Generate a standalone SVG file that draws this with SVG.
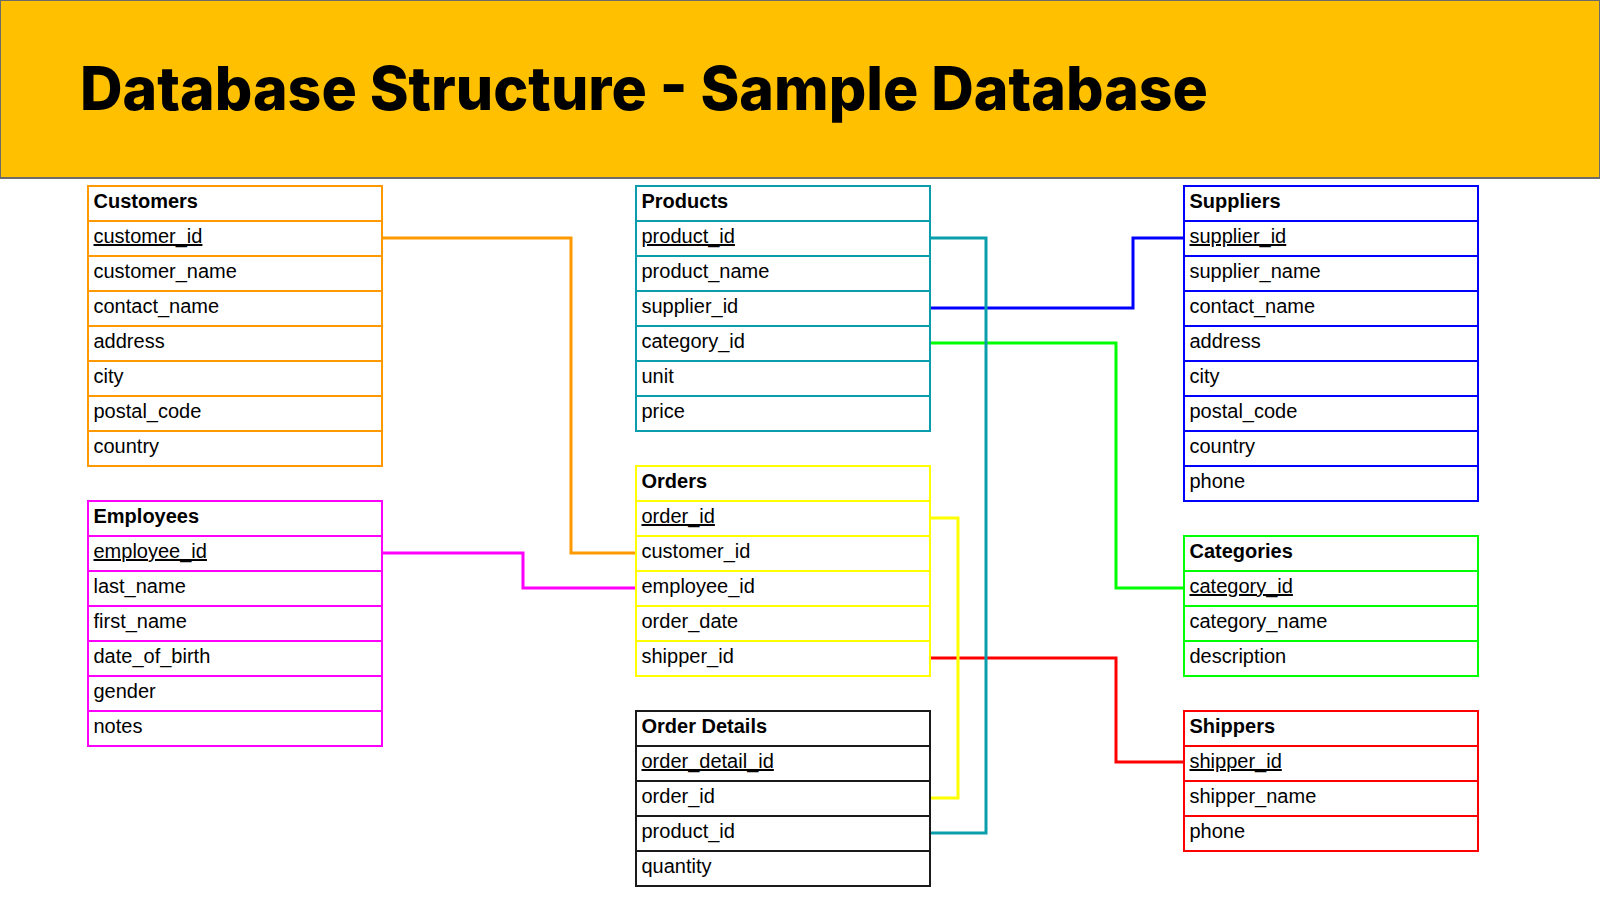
<svg xmlns="http://www.w3.org/2000/svg" width="1600" height="900" viewBox="0 0 1600 900">
<style>
  .hdr { font-family: "Liberation Sans", Arial, sans-serif; font-size: 20px; font-weight: bold; fill: #000; stroke: none; }
  .fld { font-family: "Liberation Sans", Arial, sans-serif; font-size: 20px; fill: #000; stroke: none; }
  .key { text-decoration: underline; }
  .row { fill: #fff; stroke-width: 2; }
  .conn { fill: none; stroke-width: 3; stroke-linejoin: miter; }
  .title { font-family: Inter, "Open Sans", "Liberation Sans", sans-serif; font-size: 60px; font-weight: 800; fill: #000; }
  .orange { stroke: #FF9900; }
  .teal { stroke: #0A9EAD; }
  .blue { stroke: #0000FF; }
  .magenta { stroke: #FF00FF; }
  .yellow { stroke: #FFFF00; }
  .green { stroke: #00FF00; }
  .red { stroke: #FF0000; }
  .black { stroke: #1A1A1A; }
</style>
<rect width="1600" height="900" fill="#ffffff"/>
<g id="header">
  <rect x="0" y="0" width="1600" height="178" fill="#FFC000" stroke="#6B6B6B" stroke-width="2"/>
  <text class="title" x="80" y="110" textLength="1128" lengthAdjust="spacingAndGlyphs">Database Structure - Sample Database</text>
</g>
<g id="connectors">
  <polyline class="conn orange" points="382,238 571,238 571,553 636,553"/>
  <polyline class="conn magenta" points="382,553 523,553 523,588 636,588"/>
  <polyline class="conn blue" points="930,308 1133,308 1133,238 1184,238"/>
  <polyline class="conn green" points="930,343 1116,343 1116,588 1184,588"/>
  <polyline class="conn red" points="930,658 1116,658 1116,762 1184,762"/>
  <polyline class="conn yellow" points="930,518 958,518 958,798 930,798"/>
  <polyline class="conn teal" points="930,238 986,238 986,833 930,833"/>
</g>
<g id="customers" class="orange">
  <rect class="row" x="88" y="186" width="294" height="35"/>
  <rect class="row" x="88" y="221" width="294" height="35"/>
  <rect class="row" x="88" y="256" width="294" height="35"/>
  <rect class="row" x="88" y="291" width="294" height="35"/>
  <rect class="row" x="88" y="326" width="294" height="35"/>
  <rect class="row" x="88" y="361" width="294" height="35"/>
  <rect class="row" x="88" y="396" width="294" height="35"/>
  <rect class="row" x="88" y="431" width="294" height="35"/>
  <text class="hdr" x="93.5" y="208">Customers</text>
  <text class="fld key" x="93.5" y="243">customer_id</text>
  <text class="fld" x="93.5" y="278">customer_name</text>
  <text class="fld" x="93.5" y="313">contact_name</text>
  <text class="fld" x="93.5" y="348">address</text>
  <text class="fld" x="93.5" y="383">city</text>
  <text class="fld" x="93.5" y="418">postal_code</text>
  <text class="fld" x="93.5" y="453">country</text>
</g>
<g id="employees" class="magenta">
  <rect class="row" x="88" y="501" width="294" height="35"/>
  <rect class="row" x="88" y="536" width="294" height="35"/>
  <rect class="row" x="88" y="571" width="294" height="35"/>
  <rect class="row" x="88" y="606" width="294" height="35"/>
  <rect class="row" x="88" y="641" width="294" height="35"/>
  <rect class="row" x="88" y="676" width="294" height="35"/>
  <rect class="row" x="88" y="711" width="294" height="35"/>
  <text class="hdr" x="93.5" y="523">Employees</text>
  <text class="fld key" x="93.5" y="558">employee_id</text>
  <text class="fld" x="93.5" y="593">last_name</text>
  <text class="fld" x="93.5" y="628">first_name</text>
  <text class="fld" x="93.5" y="663">date_of_birth</text>
  <text class="fld" x="93.5" y="698">gender</text>
  <text class="fld" x="93.5" y="733">notes</text>
</g>
<g id="products" class="teal">
  <rect class="row" x="636" y="186" width="294" height="35"/>
  <rect class="row" x="636" y="221" width="294" height="35"/>
  <rect class="row" x="636" y="256" width="294" height="35"/>
  <rect class="row" x="636" y="291" width="294" height="35"/>
  <rect class="row" x="636" y="326" width="294" height="35"/>
  <rect class="row" x="636" y="361" width="294" height="35"/>
  <rect class="row" x="636" y="396" width="294" height="35"/>
  <text class="hdr" x="641.5" y="208">Products</text>
  <text class="fld key" x="641.5" y="243">product_id</text>
  <text class="fld" x="641.5" y="278">product_name</text>
  <text class="fld" x="641.5" y="313">supplier_id</text>
  <text class="fld" x="641.5" y="348">category_id</text>
  <text class="fld" x="641.5" y="383">unit</text>
  <text class="fld" x="641.5" y="418">price</text>
</g>
<g id="orders" class="yellow">
  <rect class="row" x="636" y="466" width="294" height="35"/>
  <rect class="row" x="636" y="501" width="294" height="35"/>
  <rect class="row" x="636" y="536" width="294" height="35"/>
  <rect class="row" x="636" y="571" width="294" height="35"/>
  <rect class="row" x="636" y="606" width="294" height="35"/>
  <rect class="row" x="636" y="641" width="294" height="35"/>
  <text class="hdr" x="641.5" y="488">Orders</text>
  <text class="fld key" x="641.5" y="523">order_id</text>
  <text class="fld" x="641.5" y="558">customer_id</text>
  <text class="fld" x="641.5" y="593">employee_id</text>
  <text class="fld" x="641.5" y="628">order_date</text>
  <text class="fld" x="641.5" y="663">shipper_id</text>
</g>
<g id="order-details" class="black">
  <rect class="row" x="636" y="711" width="294" height="35"/>
  <rect class="row" x="636" y="746" width="294" height="35"/>
  <rect class="row" x="636" y="781" width="294" height="35"/>
  <rect class="row" x="636" y="816" width="294" height="35"/>
  <rect class="row" x="636" y="851" width="294" height="35"/>
  <text class="hdr" x="641.5" y="733">Order Details</text>
  <text class="fld key" x="641.5" y="768">order_detail_id</text>
  <text class="fld" x="641.5" y="803">order_id</text>
  <text class="fld" x="641.5" y="838">product_id</text>
  <text class="fld" x="641.5" y="873">quantity</text>
</g>
<g id="suppliers" class="blue">
  <rect class="row" x="1184" y="186" width="294" height="35"/>
  <rect class="row" x="1184" y="221" width="294" height="35"/>
  <rect class="row" x="1184" y="256" width="294" height="35"/>
  <rect class="row" x="1184" y="291" width="294" height="35"/>
  <rect class="row" x="1184" y="326" width="294" height="35"/>
  <rect class="row" x="1184" y="361" width="294" height="35"/>
  <rect class="row" x="1184" y="396" width="294" height="35"/>
  <rect class="row" x="1184" y="431" width="294" height="35"/>
  <rect class="row" x="1184" y="466" width="294" height="35"/>
  <text class="hdr" x="1189.5" y="208">Suppliers</text>
  <text class="fld key" x="1189.5" y="243">supplier_id</text>
  <text class="fld" x="1189.5" y="278">supplier_name</text>
  <text class="fld" x="1189.5" y="313">contact_name</text>
  <text class="fld" x="1189.5" y="348">address</text>
  <text class="fld" x="1189.5" y="383">city</text>
  <text class="fld" x="1189.5" y="418">postal_code</text>
  <text class="fld" x="1189.5" y="453">country</text>
  <text class="fld" x="1189.5" y="488">phone</text>
</g>
<g id="categories" class="green">
  <rect class="row" x="1184" y="536" width="294" height="35"/>
  <rect class="row" x="1184" y="571" width="294" height="35"/>
  <rect class="row" x="1184" y="606" width="294" height="35"/>
  <rect class="row" x="1184" y="641" width="294" height="35"/>
  <text class="hdr" x="1189.5" y="558">Categories</text>
  <text class="fld key" x="1189.5" y="593">category_id</text>
  <text class="fld" x="1189.5" y="628">category_name</text>
  <text class="fld" x="1189.5" y="663">description</text>
</g>
<g id="shippers" class="red">
  <rect class="row" x="1184" y="711" width="294" height="35"/>
  <rect class="row" x="1184" y="746" width="294" height="35"/>
  <rect class="row" x="1184" y="781" width="294" height="35"/>
  <rect class="row" x="1184" y="816" width="294" height="35"/>
  <text class="hdr" x="1189.5" y="733">Shippers</text>
  <text class="fld key" x="1189.5" y="768">shipper_id</text>
  <text class="fld" x="1189.5" y="803">shipper_name</text>
  <text class="fld" x="1189.5" y="838">phone</text>
</g>
</svg>
